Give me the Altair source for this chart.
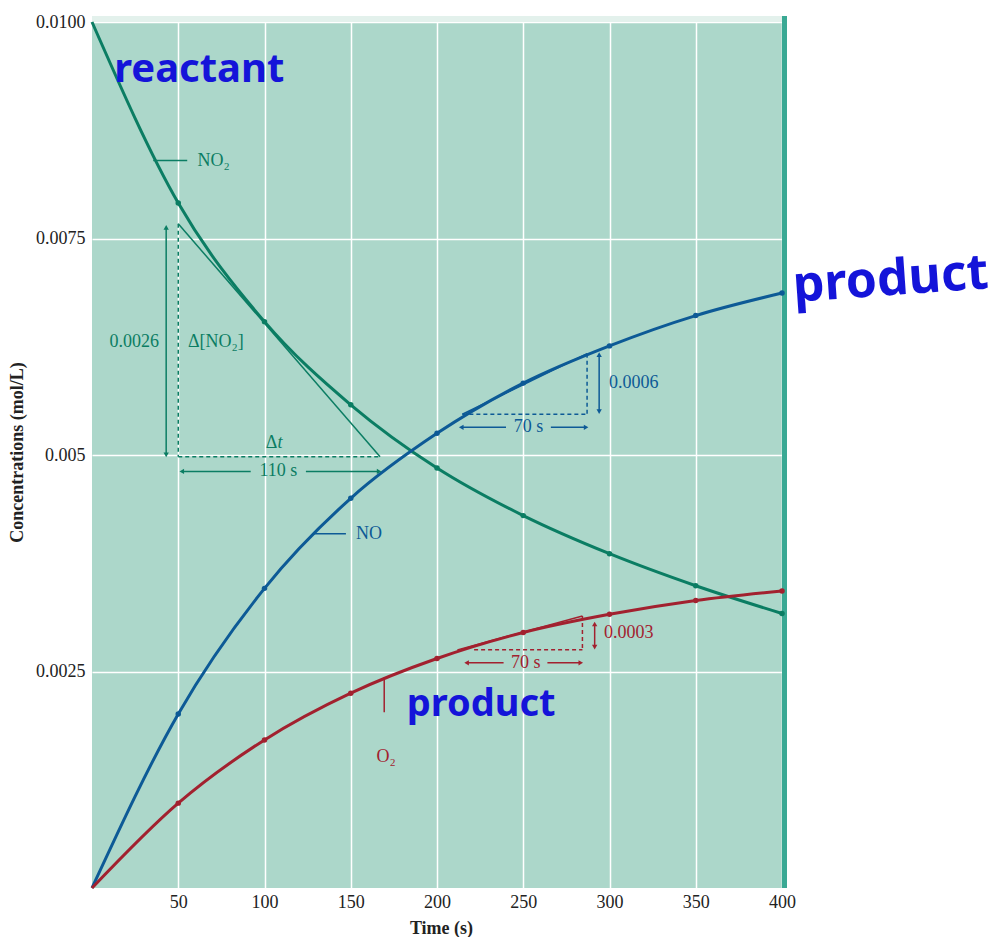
import altair as alt
import pandas as pd

# Concentration vs. time for 2 NO2 -> 2 NO + O2
time_s = [0, 50, 100, 150, 200, 250, 300, 350, 400]
no2 = [0.0100, 0.00791, 0.00654, 0.00558, 0.00485, 0.00430, 0.00386, 0.00349, 0.00317]
no = [0.0, 0.00201, 0.00346, 0.00450, 0.00525, 0.00583, 0.00626, 0.00661, 0.00687]
o2 = [0.0, 0.00098, 0.00171, 0.00225, 0.00265, 0.00295, 0.00316, 0.00332, 0.00343]

x_ticks = [50, 100, 150, 200, 250, 300, 350, 400]
y_ticks = [0.0025, 0.005, 0.0075, 0.01]

GREEN = "#0b7d63"
BLUE = "#0d5a96"
RED = "#a2212f"
INK = "#1414d9"
BG = "#acd7ca"
SERIF = "Liberation Serif"
FS = 18

W, H = 690, 866

series = pd.DataFrame({
    "t": time_s * 3,
    "c": no2 + no + o2,
    "name": ["NO2"] * 9 + ["NO"] * 9 + ["O2"] * 9,
    "color": [GREEN] * 9 + [BLUE] * 9 + [RED] * 9,
})

# Tangent lines, arrow shafts and leader lines (solid)
seg_t1 = [50, 43, 52.5, 124, 35.5, 214.7, 294, 214.5, 266, 127.8, 211.8, 291.4, 217.6, 264, 169.4]
seg_c1 = [0.00767, 0.00762, 0.00481, 0.00481, 0.0084, 0.00547, 0.00615, 0.00532, 0.00532, 0.00409,
          0.00275, 0.00304, 0.0026, 0.0026, 0.00243]
seg_t2 = [167, 43, 92, 166, 55.2, 287, 294, 240, 286, 147.2, 284.3, 291.4, 238.6, 282.9, 169.4]
seg_c2 = [0.00498, 0.00501, 0.00481, 0.00481, 0.0084, 0.00617, 0.00551, 0.00532, 0.00532, 0.00409,
          0.00314, 0.00279, 0.0026, 0.0026, 0.00203]
seg_col = [GREEN] * 5 + [BLUE] * 5 + [RED] * 5
segments = pd.DataFrame({"t1": seg_t1, "c1": seg_c1, "t2": seg_t2, "c2": seg_c2, "color": seg_col})

# Dashed legs of the rate triangles
dash_t1 = [50, 50, 287, 214.7, 284.3, 221.5]
dash_c1 = [0.00767, 0.00498, 0.00617, 0.00547, 0.00314, 0.00275]
dash_t2 = [50, 167, 287, 287, 284.3, 284.3]
dash_c2 = [0.00498, 0.00498, 0.00547, 0.00547, 0.00275, 0.00275]
dash_col = [GREEN, GREEN, BLUE, BLUE, RED, RED]
dashes = pd.DataFrame({"t1": dash_t1, "c1": dash_c1, "t2": dash_t2, "c2": dash_c2, "color": dash_col})

# Arrowheads (angle: 0 up, 90 right, 180 down, 270 left)
head_t = [43, 43, 52.5, 166, 294, 294, 214.5, 286, 291.4, 291.4, 217.6, 282.9]
head_c = [0.00762, 0.00501, 0.00481, 0.00481, 0.00615, 0.00551, 0.00532, 0.00532,
          0.00304, 0.00279, 0.0026, 0.0026]
head_angle = [0, 180, 270, 90] * 3
head_col = [GREEN] * 4 + [BLUE] * 4 + [RED] * 4
heads = pd.DataFrame({"t": head_t, "c": head_c, "angle": head_angle, "color": head_col})

# Printed labels
lab_text = ["0.0026", "Δ[NO₂]", "110 s", "NO₂", "Δ",
            "0.0006", "70 s", "NO",
            "0.0003", "70 s", "O₂"]
lab_t = [24.5, 71.8, 108, 61.2, 107.5, 299.7, 253, 153, 296.8, 251.5, 170.5]
lab_c = [0.0063, 0.0063, 0.00481, 0.0084, 0.00514, 0.00583, 0.00532, 0.00409, 0.00295, 0.0026, 0.00151]
lab_align = ["center", "center", "center", "left", "right",
             "left", "center", "left", "left", "center", "center"]
lab_col = [GREEN] * 5 + [BLUE] * 3 + [RED] * 3
labels = pd.DataFrame({"text": lab_text, "t": lab_t, "c": lab_c, "align": lab_align, "color": lab_col})

italic_labels = pd.DataFrame({"text": ["t"], "t": [107.5], "c": [0.00514], "color": [GREEN]})

# Handwritten notes
note_text = ["reactant", "product", "product"]
note_t = [62.2, 463, 225.6]
note_c = [0.00945, 0.00702, 0.00211]
note_size = [40, 50, 38]
note_angle = [0, 356, 0]
notes = pd.DataFrame({"text": note_text, "t": note_t, "c": note_c, "size": note_size, "angle": note_angle})

x_scale = alt.Scale(domain=[0, 400], nice=False, zero=False)
y_scale = alt.Scale(domain=[0, 0.01], nice=False)

x_axis = alt.Axis(
    title="Time (s)", values=x_ticks, grid=True, gridColor="white", gridWidth=1.5,
    domain=False, ticks=False, labelPadding=5, labelFlush=False,
    labelFont=SERIF, labelFontSize=FS, labelColor="#222",
    titleFont=SERIF, titleFontSize=FS, titleFontWeight="bold", titleColor="#222",
    titleX=349, titleY=40, titleBaseline="middle",
)
y_axis = alt.Axis(
    title="Concentrations (mol/L)", values=y_ticks, grid=True, gridColor="white", gridWidth=1.5,
    domain=False, ticks=False, labelPadding=7, labelFlush=False,
    labelExpr="datum.value > 0.009 ? '0.0100' : datum.value > 0.007 ? '0.0075' : datum.value > 0.004 ? '0.005' : '0.0025'",
    labelFont=SERIF, labelFontSize=FS, labelColor="#222",
    titleFont=SERIF, titleFontSize=FS, titleFontWeight="bold", titleColor="#222",
    titleX=-75, titleY=430, titleBaseline="middle", titleAngle=270,
)

base_x = alt.X("t:Q", scale=x_scale, axis=x_axis)
base_y = alt.Y("c:Q", scale=y_scale, axis=y_axis)

# Raised frame: light strip on top, darker edge on the right
top_strip = alt.Chart(pd.DataFrame({"k": [0]})).mark_rect(color="#e3f1ec").encode(
    x=alt.value(0), x2=alt.value(W + 5), y=alt.value(-6), y2=alt.value(0)
)
right_edge = alt.Chart(pd.DataFrame({"k": [0]})).mark_rect(color="#3aa994").encode(
    x=alt.value(W), x2=alt.value(W + 5), y=alt.value(-6), y2=alt.value(H)
)

lines = alt.Chart(series).mark_line(interpolate="monotone", strokeWidth=3).encode(
    x=base_x, y=base_y, detail="name:N", color=alt.Color("color:N", scale=None)
)
dots = alt.Chart(series).transform_filter("datum.t > 0").mark_circle(size=30, opacity=1).encode(
    x="t:Q", y="c:Q", color=alt.Color("color:N", scale=None)
)

seg_layer = alt.Chart(segments).mark_rule(strokeWidth=1.5).encode(
    x="t1:Q", y="c1:Q", x2="t2:Q", y2="c2:Q", color=alt.Color("color:N", scale=None)
)
dash_layer = alt.Chart(dashes).mark_rule(strokeWidth=1.5, strokeDash=[4, 3]).encode(
    x="t1:Q", y="c1:Q", x2="t2:Q", y2="c2:Q", color=alt.Color("color:N", scale=None)
)
head_layer = alt.Chart(heads).mark_point(shape="triangle", filled=True, size=28, opacity=1).encode(
    x="t:Q", y="c:Q", angle=alt.Angle("angle:Q", scale=None), color=alt.Color("color:N", scale=None)
)

text_layers = []
for al in ["left", "center", "right"]:
    text_layers.append(
        alt.Chart(labels).transform_filter(f"datum.align == '{al}'").mark_text(
            align=al, baseline="middle", font=SERIF, fontSize=FS
        ).encode(x="t:Q", y="c:Q", text="text:N", color=alt.Color("color:N", scale=None))
    )
italic_layer = alt.Chart(italic_labels).mark_text(
    align="left", baseline="middle", font=SERIF, fontSize=FS, fontStyle="italic"
).encode(x="t:Q", y="c:Q", text="text:N", color=alt.Color("color:N", scale=None))

note_layer = alt.Chart(notes).mark_text(
    align="center", baseline="middle", font="Noto Sans", fontWeight="bold", color=INK
).encode(
    x="t:Q", y="c:Q", text="text:N",
    size=alt.Size("size:Q", scale=None, legend=None),
    angle=alt.Angle("angle:Q", scale=None),
)

chart = alt.layer(
    top_strip, right_edge, lines, dots, seg_layer, dash_layer, head_layer,
    *text_layers, italic_layer, note_layer,
).properties(
    width=W, height=H,
    autosize=alt.AutoSizeParams(type="none"),
    padding={"left": 92, "top": 22, "right": 213, "bottom": 49},
    background="white",
).configure_view(fill=BG, stroke=None)

chart.save("out.html", embed_options={"renderer": "svg", "actions": False})
